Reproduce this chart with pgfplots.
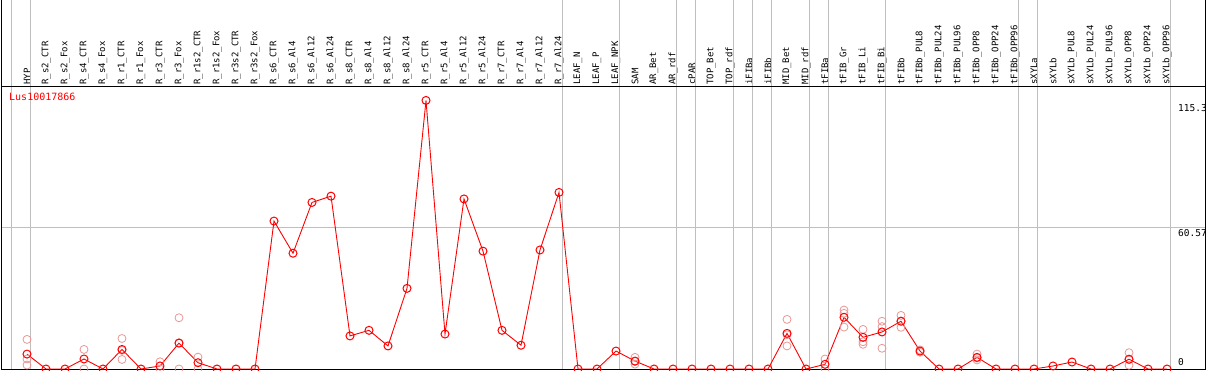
\documentclass[border=0pt]{standalone}
\usepackage{fontspec}
\newfontfamily\mono{DejaVu Sans Mono}
\usepackage{pgfplots}
\pgfplotsset{compat=1.18}
\definecolor{rep}{RGB}{232,150,150}
\begin{document}
\begin{tikzpicture}
\path[use as bounding box] (-1pt,-1pt) rectangle (1208pt,369pt);
\begin{axis}[
 at={(0,0)}, anchor=south west,
 scale only axis, width=1205pt, height=369pt,
 xmin=-1.368, xmax=62.05, ymin=0, ymax=158.4,
 axis line style={black, line width=1pt},
 xtick={0,...,60},
 xticklabels={HYP,R\_s2\_CTR,R\_s2\_Fox,R\_s4\_CTR,R\_s4\_Fox,R\_r1\_CTR,R\_r1\_Fox,R\_r3\_CTR,R\_r3\_Fox,R\_r1s2\_CTR,R\_r1s2\_Fox,R\_r3s2\_CTR,R\_r3s2\_Fox,R\_s6\_CTR,R\_s6\_Al4,R\_s6\_Al12,R\_s6\_Al24,R\_s8\_CTR,R\_s8\_Al4,R\_s8\_Al12,R\_s8\_Al24,R\_r5\_CTR,R\_r5\_Al4,R\_r5\_Al12,R\_r5\_Al24,R\_r7\_CTR,R\_r7\_Al4,R\_r7\_Al12,R\_r7\_Al24,LEAF\_N,LEAF\_P,LEAF\_NPK,SAM,AR\_Bet,AR\_rdf,cPAR,TOP\_Bet,TOP\_rdf,iFIBa,iFIBb,MID\_Bet,MID\_rdf,tFIBa,tFIB\_Gr,tFIB\_Li,tFIB\_Bi,tFIBb,tFIBb\_PUL8,tFIBb\_PUL24,tFIBb\_PUL96,tFIBb\_OPP8,tFIBb\_OPP24,tFIBb\_OPP96,sXYLa,sXYLb,sXYLb\_PUL8,sXYLb\_PUL24,sXYLb\_PUL96,sXYLb\_OPP8,sXYLb\_OPP24,sXYLb\_OPP96},
 xticklabel pos=top,
 xticklabel shift=-86pt,
 xticklabel style={rotate=90, anchor=west, font=\mono\fontsize{9}{9}\selectfont, inner sep=1pt},
 major tick length=0pt,
 ytick={60.57}, yticklabels={},
 ymajorgrids,
 grid style={gray!50, line width=1pt},
 extra x ticks={-0.83,0.17,28.17,31.17,34.17,35.17,37.17,38.17,39.17,41.17,42.17,45.17,52.17,53.17,60.17},
 extra x tick labels={},
 extra x tick style={xmajorgrids=true, major grid style={gray!50,line width=1pt}},
 extra y ticks={121.3}, extra y tick labels={},
 extra y tick style={major grid style={black, line width=1pt}},
 clip=true,
]
\addplot[only marks, mark=o, mark size=4pt, mark options={draw=rep, line width=0.8pt}] coordinates {
 (0,12.7) (0,4.3) (0,1.7)
 (3,8.4) (3,0)
 (5,13.1) (5,4.1) (5,8.0)
 (7,3.1) (7,0)
 (8,22.0) (8,0) (8,11.3)
 (9,5.1) (9,0)
 (32,5.0) (32,2.1) (32,3.2)
 (40,21.3) (40,9.9) (40,14.7)
 (42,4.3) (42,0)
 (43,25.3) (43,23.9) (43,18.0)
 (44,17.0) (44,11.7) (44,10.6)
 (45,20.5) (45,18.2) (45,8.9)
 (46,23.0) (46,17.9) (46,20.6)
 (47,8.2) (47,7.2)
 (50,6.4) (50,3.9) (50,4.7)
 (58,7.0) (58,1.6) (58,4.0)
};
\addplot[red, line width=0.9pt, mark=o, mark size=4pt, mark options={draw=red, line width=1pt}] coordinates {
 (0,6.4) (1,0) (2,0) (3,4.3) (4,0) (5,8.4) (6,0) (7,1.3) (8,11.1) (9,2.7)
 (10,0) (11,0) (12,0) (13,63.5) (14,49.7) (15,71.5) (16,74.2) (17,14.2) (18,16.6) (19,9.9)
 (20,34.6) (21,115.3) (22,15.0) (23,73.0) (24,50.6) (25,16.6) (26,10.2) (27,51.1) (28,75.8) (29,0)
 (30,0) (31,7.7) (32,3.4) (33,0) (34,0) (35,0) (36,0) (37,0) (38,0) (39,0)
 (40,15.3) (41,0) (42,2.0) (43,22.2) (44,13.6) (45,15.9) (46,20.5) (47,7.7) (48,0) (49,0)
 (50,5.0) (51,0) (52,0) (53,0) (54,1.3) (55,3.0) (56,0) (57,0) (58,4.2) (59,0)
 (60,0)
};
\node[anchor=west, red, font=\mono\fontsize{10}{10}\selectfont, inner sep=0pt] at (axis cs:-0.947,116.7) {Lus10017866};
\node[anchor=west, font=\mono\fontsize{9.5}{9.5}\selectfont, inner sep=0pt] at (axis cs:60.58,112) {115.3};
\node[anchor=west, font=\mono\fontsize{9.5}{9.5}\selectfont, inner sep=0pt] at (axis cs:60.58,58.4) {60.57};
\node[anchor=west, font=\mono\fontsize{9.5}{9.5}\selectfont, inner sep=0pt] at (axis cs:60.58,3.0) {0};
\end{axis}
\end{tikzpicture}
\end{document}
